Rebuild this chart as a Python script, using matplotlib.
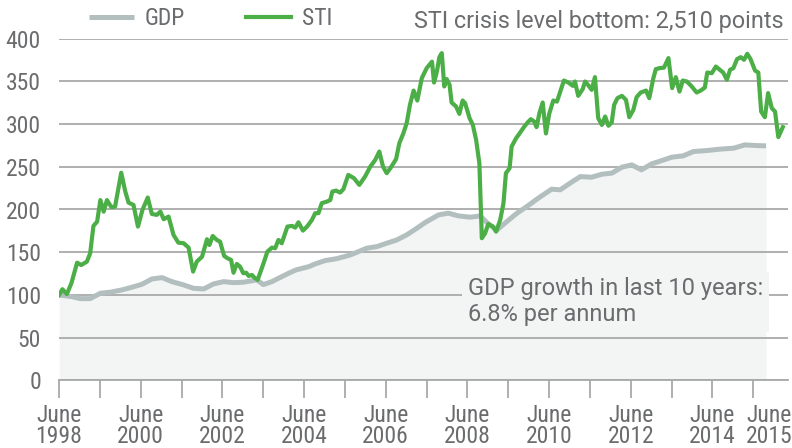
import matplotlib
matplotlib.use("Agg")
from matplotlib import pyplot as plt
from matplotlib import font_manager
from matplotlib.transforms import ScaledTranslation

# decimal years (June = year + 0.42) and index values (June 1998 = 100)
sti_t = [1998.42, 1998.50, 1998.61, 1998.72, 1998.86, 1998.96, 1999.10, 1999.18, 1999.26, 1999.35,
         1999.43, 1999.51, 1999.59, 1999.70, 1999.79, 1999.94, 2000.04, 2000.12, 2000.24, 2000.35,
         2000.46, 2000.59, 2000.69, 2000.81, 2000.90, 2000.98, 2001.10, 2001.22, 2001.34, 2001.47,
         2001.59, 2001.70, 2001.79, 2001.92, 2002.04, 2002.10, 2002.18, 2002.28, 2002.36, 2002.46,
         2002.54, 2002.63, 2002.69, 2002.77, 2002.85, 2002.93, 2003.00, 2003.06, 2003.14, 2003.20,
         2003.28, 2003.41, 2003.52, 2003.63, 2003.71, 2003.79, 2003.87, 2004.01, 2004.12, 2004.20,
         2004.28, 2004.39, 2004.49, 2004.61, 2004.69, 2004.77, 2004.85, 2004.98, 2005.06, 2005.11,
         2005.20, 2005.30, 2005.38, 2005.50, 2005.64, 2005.77, 2005.91, 2006.04, 2006.16, 2006.26,
         2006.35, 2006.44, 2006.54, 2006.67, 2006.75, 2006.85, 2006.93, 2007.01, 2007.10, 2007.19,
         2007.30, 2007.42, 2007.55, 2007.60, 2007.67, 2007.73, 2007.79, 2007.85, 2007.91, 2007.98,
         2008.03, 2008.14, 2008.22, 2008.30, 2008.36, 2008.47, 2008.55, 2008.63, 2008.71, 2008.77,
         2008.85, 2008.93, 2009.04, 2009.12, 2009.22, 2009.30, 2009.36, 2009.45, 2009.50, 2009.61,
         2009.71, 2009.80, 2009.89, 2009.97, 2010.05, 2010.11, 2010.18, 2010.26, 2010.34, 2010.42,
         2010.52, 2010.61, 2010.69, 2010.78, 2010.89, 2011.00, 2011.05, 2011.13, 2011.24, 2011.30,
         2011.40, 2011.46, 2011.54, 2011.62, 2011.71, 2011.79, 2011.87, 2011.95, 2012.01, 2012.09,
         2012.20, 2012.30, 2012.38, 2012.48, 2012.56, 2012.66, 2012.79, 2012.87, 2012.97, 2013.03,
         2013.13, 2013.23, 2013.34, 2013.43, 2013.52, 2013.61, 2013.69, 2013.79, 2013.91, 2014.03,
         2014.13, 2014.23, 2014.29, 2014.40, 2014.50, 2014.60, 2014.68, 2014.77, 2014.85, 2014.93,
         2015.02, 2015.11, 2015.19, 2015.27, 2015.35, 2015.46, 2015.54, 2015.61, 2015.70, 2015.78,
         2015.87, 2015.95, 2016.03, 2016.14]
sti = [100, 106.7, 101, 113.7, 137.8, 135, 139, 148.8, 180.8, 185.8,
       211, 197.5, 211, 202.7, 203.4, 243, 221, 208, 205.4, 180,
       199.5, 214, 194.8, 193.7, 197.5, 188.6, 191.7, 170.3, 161.2, 160.5,
       155.4, 127.3, 139, 144.8, 165.2, 158.5, 169, 164.4, 162.4, 145.7,
       143, 141, 126, 136.3, 133.1, 125.4, 126, 122.2, 123.4, 120.3,
       117.6, 135, 150.7, 155.4, 154.7, 164.4, 160.5, 180, 180.8, 178.8,
       185, 175.3, 180, 187.8, 195.7, 195.7, 207.4, 209.3, 211.2, 221,
       222.1, 219.8, 223.8, 240.5, 236.6, 228.8, 238.5, 250.2, 258, 267.8,
       250.2, 242.5, 249, 258.9, 277.6, 289.3, 301, 322.5, 339.2, 327.5,
       353.7, 365.5, 373, 348.6, 361.5, 378.3, 383, 344, 352.6, 345.9,
       325.2, 320.5, 311.9, 327.5, 324.5, 306.9, 299, 281.5, 254.2, 166.4,
       172.2, 183.1, 180, 174.1, 187.8, 207.4, 242.5, 248.4, 273.7, 283.5,
       290.1, 296.4, 301.8, 305.7, 303, 296.4, 312.8, 325.2, 289, 312,
       327.5, 326.3, 338, 350.9, 348.6, 344.7, 349.8, 333, 340.9, 349.8,
       344, 340, 354.9, 306.9, 299, 308.8, 298, 301.8, 322.5, 330.3,
       333, 328.3, 308, 316.6, 331.5, 336.9, 339.2, 330.3, 353.7, 364.3,
       365.5, 366, 377.2, 342, 354.9, 338, 350.9, 349.8, 344, 336.9,
       339.2, 342.7, 360.3, 359.5, 367.3, 363.5, 360.3, 351.8, 363.5, 365.5,
       376, 378.3, 375.2, 382.2, 376, 362.6, 360.3, 314.6, 308, 336.2,
       318.6, 314.6, 284.7, 296.4]

gdp_t = [1998.42, 1998.73, 1998.94, 1999.18, 1999.43, 1999.67, 1999.96, 2000.20, 2000.45, 2000.69,
         2000.94, 2001.18, 2001.47, 2001.71, 2001.96, 2002.20, 2002.45, 2002.69, 2002.93, 2003.26,
         2003.42, 2003.63, 2003.87, 2004.04, 2004.22, 2004.53, 2004.69, 2004.93, 2005.22, 2005.55,
         2005.75, 2005.95, 2006.20, 2006.44, 2006.69, 2006.93, 2007.18, 2007.38, 2007.71, 2007.95,
         2008.20, 2008.48, 2008.73, 2008.93, 2009.14, 2009.38, 2009.63, 2009.87, 2010.15, 2010.48,
         2010.69, 2010.93, 2011.18, 2011.46, 2011.71, 2011.95, 2012.20, 2012.44, 2012.68, 2012.93,
         2013.18, 2013.42, 2013.70, 2013.95, 2014.28, 2014.60, 2014.94, 2015.21, 2015.50, 2015.73]
gdp = [100, 98, 95.7, 95.7, 102, 103.2, 105.9, 109, 112.5, 118.7,
       120.3, 115.6, 111.7, 107.8, 107, 112.9, 115.6, 114.4, 114.9, 117.6,
       112.1, 115.6, 121.4, 125.4, 129.3, 133.1, 136.3, 140.2, 142.5, 146.8,
       150.7, 154.7, 156.6, 160.5, 164.4, 170.3, 178.1, 184.7, 193.7, 195.7,
       192.5, 191, 192.5, 183.1, 176.1, 185.8, 195.7, 203.4, 213.2, 223.8,
       223, 230.8, 238.5, 237.8, 241.3, 242.5, 249.5, 252.2, 246.4, 253.4,
       257.3, 261.2, 262.8, 267.8, 269, 270.6, 271.8, 275.6, 274.8, 274.5]

tick_years = list(range(1998, 2016))
label_years = [1998, 2000, 2002, 2004, 2006, 2008, 2010, 2012, 2014, 2015]

txt = '#6b6c6e'
green = '#4cae46'
grey_line = '#b3bfbf'
fill_col = '#f3f5f5'
grid_col = '#a9a9a9'
wide = ['Roboto', 'DejaVu Sans']

# condensed face for ticks/legend if there is one, otherwise plain Roboto a bit smaller
try:
    font_manager.findfont(font_manager.FontProperties(family='Roboto Condensed'), fallback_to_default=False)
    narrow, nsize, xsize = ['Roboto Condensed', 'DejaVu Sans'], 17, 17
except ValueError:
    narrow, nsize, xsize = ['Roboto', 'DejaVu Sans'], 14.5, 13.6

fig = plt.figure(figsize=(7.92, 4.48), dpi=100)
ax = fig.add_axes([59 / 792, 1 - 380.4 / 448, (788 - 59) / 792, (380.4 - 38.6) / 448])

ax.fill_between(gdp_t, gdp, 0, color=fill_col, lw=0, zorder=0.2)
ax.plot(gdp_t, gdp, color=grey_line, lw=3.6, solid_capstyle='butt', zorder=3, label='GDP')
ax.plot(sti_t, sti, color=green, lw=3.0, zorder=4, label='STI')

ax.set_xlim(1998.417, 1998.417 + 17.85)
ax.set_ylim(0, 400)
ax.set_yticks(range(0, 401, 50))
ax.set_xticks([y + 5 / 12 for y in tick_years])
ax.set_xticklabels(['June\n%d' % y if y in label_years else '' for y in tick_years])

ax.set_axisbelow(True)
ax.grid(axis='y', color=grid_col, lw=1.3)
for s in ['top', 'right', 'left']:
    ax.spines[s].set_visible(False)
ax.spines['bottom'].set_color(grid_col)
ax.spines['bottom'].set_linewidth(1.3)
ax.tick_params(axis='y', length=0, pad=13, labelsize=nsize, labelcolor=txt)
ax.tick_params(axis='x', length=13, width=1.3, color=grid_col, pad=4, labelsize=xsize, labelcolor=txt)
for lab in ax.get_xticklabels() + ax.get_yticklabels():
    lab.set_family(narrow)
for lab in ax.get_xticklabels():
    lab.set_linespacing(0.88)
# last label sits to the right of its tick so it does not hit June 2014
last = ax.get_xticklabels()[-1]
last.set_horizontalalignment('left')
last.set_transform(last.get_transform() + ScaledTranslation(-7 / 100, 0, fig.dpi_scale_trans))

leg = ax.legend(loc='lower left', bbox_to_anchor=(89 / 792, 1 - 30 / 448), bbox_transform=fig.transFigure,
                ncol=2, frameon=False, handlelength=1.9, handletextpad=0.45, columnspacing=2.6,
                borderpad=0, borderaxespad=0, prop={'family': narrow, 'size': nsize})
for t in leg.get_texts():
    t.set_color(txt)

fig.text(784 / 792, 1 - 28 / 448, 'STI crisis level bottom: 2,510 points', ha='right', va='baseline',
         fontsize=16.8, color=txt, family=wide)
fig.text(468 / 792, 1 - 321 / 448, 'GDP growth in last 10 years:\n6.8% per annum', ha='left', va='baseline',
         fontsize=17, color=txt, family=wide, linespacing=1.15,
         bbox=dict(facecolor=fill_col, edgecolor='none', pad=4))

fig.savefig('out.png', dpi=100)
